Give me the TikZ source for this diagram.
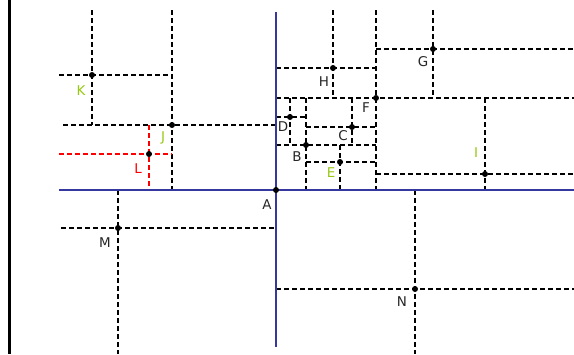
\documentclass[tikz,border=0pt]{standalone}
\usepackage{fontspec}
\setmainfont{DejaVu Sans}
\begin{document}
\begin{tikzpicture}[x=1bp,y=-1bp,
  split/.style={line width=1.1bp, dash pattern=on 5bp off 3bp},
  redsplit/.style={split, draw=red},
  axis/.style={line width=1.5bp, draw=axisblue},
  pt/.style={circle, fill=black, inner sep=0pt, minimum size=6bp},
  lbl/.style={font=\fontsize{13.5}{15}\selectfont, text=black!85, inner sep=0pt},
  glbl/.style={lbl, text=labelgreen},
  rlbl/.style={lbl, text=red}]
\definecolor{axisblue}{RGB}{55,55,160}
\definecolor{labelgreen}{RGB}{150,200,20}
\useasboundingbox (0,0) rectangle (574,354);
% frame coordinates
\coordinate (T) at (0,10);
\coordinate (Bot) at (0,354);
\coordinate (R) at (574,0);
% split points
\coordinate (A) at (276,190);
\coordinate (B) at (306,145);
\coordinate (C) at (352,127);
\coordinate (D) at (290,117);
\coordinate (E) at (340,162);
\coordinate (F) at (376,98);
\coordinate (G) at (433,49);
\coordinate (H) at (333,68);
\coordinate (I) at (485,174);
\coordinate (J) at (172,125);
\coordinate (K) at (92,75);
\coordinate (L) at (149,154);
\coordinate (M) at (118,228);
\coordinate (N) at (415,289);
% left ends
\coordinate (xk) at (59,0);
\coordinate (xj) at (63,0);
\coordinate (xl) at (59,0);
\coordinate (xm) at (61,0);
\coordinate (xa) at (59,0);
\coordinate (atop) at (276,12);
\coordinate (abot) at (276,347);
\coordinate (f1) at (9.5,0);
\coordinate (f2) at (9.5,354);
% left frame line
\draw[line width=2.3bp] (f1) -- (f2);
% left half
\draw[split] (K |- T) -- (K |- J);
\draw[split] (K -| xk) -- (K -| J);
\draw[split] (J |- T) -- (J |- A);
\draw[split] (J -| xj) -- (J -| A);
\draw[redsplit] (L -| xl) -- (L -| J);
\draw[redsplit] (L |- J) -- (L |- A);
\draw[split] (M |- A) -- (M |- Bot);
\draw[split] (M -| xm) -- (M -| A);
% right half
\draw[split] (H -| A) -- (H -| F);
\draw[split] (H |- T) -- (H |- F);
\draw[split] (F |- T) -- (F |- A);
\draw[split] (F -| A) -- (F -| R);
\draw[split] (G -| F) -- (G -| R);
\draw[split] (G |- T) -- (G |- F);
\draw[split] (I |- F) -- (I |- A);
\draw[split] (I -| F) -- (I -| R);
\draw[split] (B -| A) -- (B -| F);
\draw[split] (B |- F) -- (B |- A);
\draw[split] (D |- F) -- (D |- B);
\draw[split] (D -| A) -- (D -| B);
\draw[split] (C |- F) -- (C |- B);
\draw[split] (C -| B) -- (C -| F);
\draw[split] (E |- B) -- (E |- A);
\draw[split] (E -| B) -- (E -| F);
\draw[split] (N |- A) -- (N |- Bot);
\draw[split] (N -| A) -- (N -| R);
% axes
\draw[axis] (A -| xa) -- (A -| R);
\draw[axis] (atop) -- (abot);
% points
\foreach \p in {A,B,C,D,E,F,G,H,I,J,K,L,M,N} \node[pt] at (\p) {};
% labels
\node[lbl]  at (267,205) {A};
\node[lbl]  at (297,157) {B};
\node[lbl]  at (343,136) {C};
\node[lbl]  at (283,127) {D};
\node[glbl] at (331,173) {E};
\node[lbl]  at (366,108) {F};
\node[lbl]  at (423,62) {G};
\node[lbl]  at (324,82) {H};
\node[glbl] at (476,153) {I};
\node[glbl] at (163,138) {J};
\node[glbl] at (81,91) {K};
\node[rlbl] at (138,169) {L};
\node[lbl]  at (105,243) {M};
\node[lbl]  at (402,302) {N};
\end{tikzpicture}
\end{document}
